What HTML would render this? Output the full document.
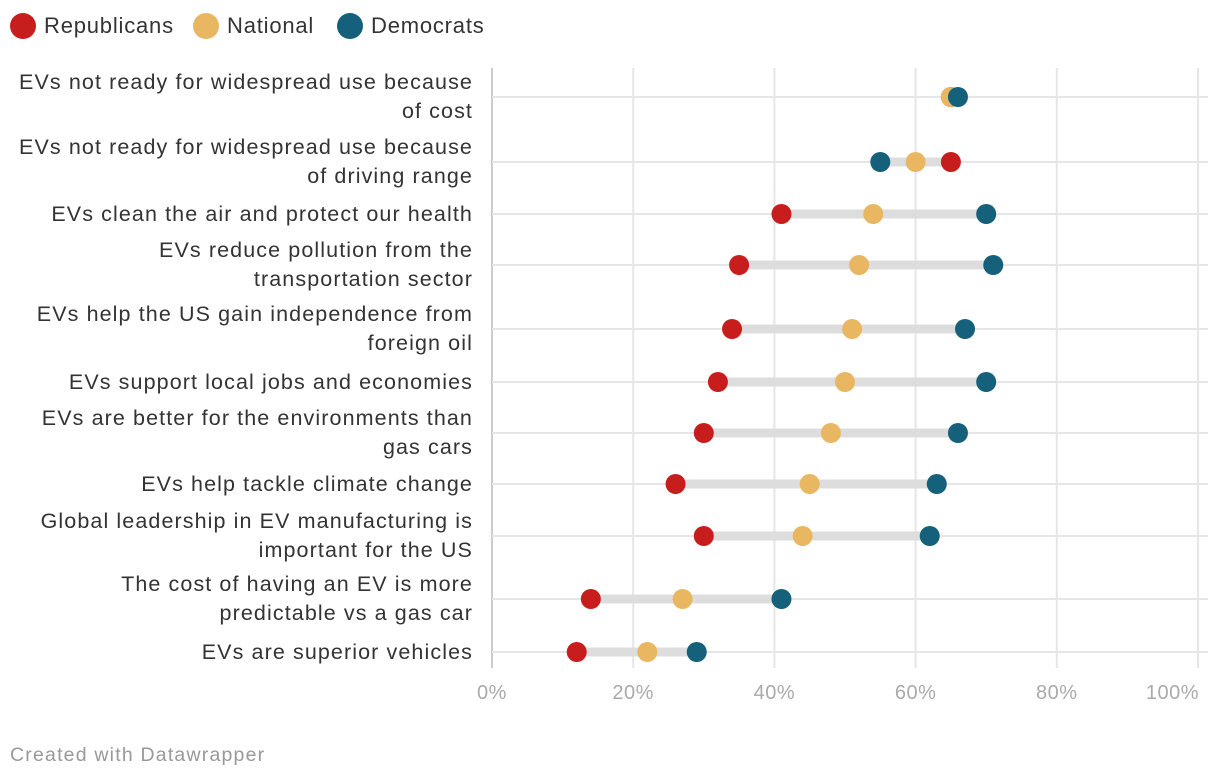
<!DOCTYPE html>
<html><head><meta charset="utf-8">
<style>
body{margin:0;background:#fff;font-family:"Liberation Sans",sans-serif;}
#wrap{position:relative;width:1220px;height:780px;overflow:hidden;}
</style></head>
<body><div id="wrap">
<svg id="svg" width="1220" height="780"></svg>
</div>
<script>
const categories=["EVs not ready for widespread use because|of cost","EVs not ready for widespread use because|of driving range","EVs clean the air and protect our health","EVs reduce pollution from the|transportation sector","EVs help the US gain independence from|foreign oil","EVs support local jobs and economies","EVs are better for the environments than|gas cars","EVs help tackle climate change","Global leadership in EV manufacturing is|important for the US","The cost of having an EV is more|predictable vs a gas car","EVs are superior vehicles"];
const republicans=[65,65,41,35,34,32,30,26,30,14,12];
const national=[65,60,54,52,51,50,48,45,44,27,22];
const democrats=[66,55,70,71,67,70,66,63,62,41,29];
const tickLabels=["0%","20%","40%","60%","80%","100%"];
const tickValues=[0,20,40,60,80,100];
const rowY=[97,162,214,265,329,382,433,484,536,599,652];
const NS="http://www.w3.org/2000/svg";
const svg=document.getElementById('svg');
const x=v=>492+v*7.06;
function mk(t,a,p){const e=document.createElementNS(NS,t);for(const k in a)e.setAttribute(k,a[k]);(p||svg).appendChild(e);return e;}
tickValues.forEach((v,i)=>{
 const l=mk('line',{x1:x(v),x2:x(v),y1:68,y2:668,stroke:i==0?'#ccc':'#e6e6e6','stroke-width':2});
 
 
 const last=i==tickValues.length-1;
 const t=mk('text',{x:last?x(v)+1:x(v),y:699,'text-anchor':last?'end':'middle','font-size':20,fill:'#aaa','letter-spacing':0.5});
 t.textContent=tickLabels[i];
 
 
});
const cols={r:'#c71e1d',n:'#e9b762',d:'#15607a'};
categories.forEach((c,i)=>{
 const y=rowY[i];
 const g=mk('line',{x1:492,x2:1208,y1:y,y2:y,stroke:'#e6e6e6','stroke-width':2});
 
 
 const vals=[republicans[i],national[i],democrats[i]];
 const b=mk('line',{x1:x(Math.min(...vals)),x2:x(Math.max(...vals)),y1:y,y2:y,stroke:'#dddddd','stroke-width':9});
 
 
 const lines=c.split('|');
 const t=mk('text',{x:472,'text-anchor':'end','font-size':21.5,fill:'#333','letter-spacing':1.1});
 
 
 lines.forEach((s,j)=>{const ts=mk('tspan',{x:473,y:(lines.length==1?y+7:y-8+j*29)},t);ts.textContent=s;});
 [['r',republicans[i]],['n',national[i]],['d',democrats[i]]].forEach(([k,v])=>{
  const d=mk('circle',{cx:x(v),cy:y,r:10,fill:cols[k]});
  
  
 });
});
[['Republicans',cols.r,10],['National',cols.n,193],['Democrats',cols.d,337]].forEach(([n,c,lx])=>{
 const d=mk('circle',{cx:lx+13,cy:26,r:13,fill:c});
 
 
 const t=mk('text',{x:lx+34,y:33,'font-size':22,fill:'#333','letter-spacing':0.8});
 t.textContent=n;
 
 
});
const f=mk('text',{x:10,y:761,'font-size':19.5,fill:'#999','letter-spacing':1.2});
f.textContent='Created with Datawrapper';


</script>
</body></html>
